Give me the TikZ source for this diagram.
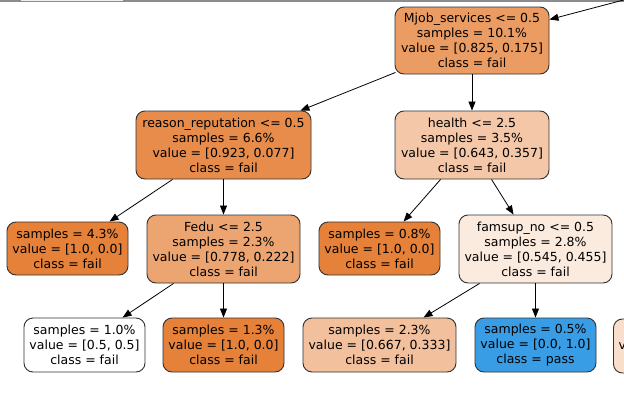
\documentclass[tikz,border=0pt]{standalone}
\usepackage{fontspec}
\setmainfont{DejaVu Sans}
\usetikzlibrary{arrows.meta,calc}
\definecolor{cMjob}{RGB}{235,156,99}
\definecolor{cReason}{RGB}{231,140,74}
\definecolor{cHealth}{RGB}{243,199,167}
\definecolor{cFail}{RGB}{229,129,57}
\definecolor{cFedu}{RGB}{236,165,113}
\definecolor{cFamsup}{RGB}{251,234,222}
\definecolor{cHalf}{RGB}{242,192,156}
\definecolor{cPass}{RGB}{57,157,229}
\definecolor{cPartial}{RGB}{248,222,203}
\definecolor{cBorder}{RGB}{50,50,50}
\definecolor{cBar}{RGB}{140,140,140}
\tikzset{
  treenode/.style={draw=cBorder, line width=0.9pt, rounded corners=9pt, inner sep=0pt,
    align=center, font=\fontsize{12.5}{15}\selectfont, text=black},
  edge/.style={draw=black, line width=0.8pt, -{Triangle[length=9pt,width=7pt]}}
}
\begin{document}
\begin{tikzpicture}[x=1pt,y=-1pt]
\useasboundingbox (0,0) rectangle (624,402);
\fill[white] (0,0) rectangle (624,402);
\fill[cBar] (0,0) rectangle (624,2);
\fill[white!85!cBar] (21,0) rectangle (123,1);

\node[treenode, fill=cMjob, minimum width=154pt, minimum height=67pt] (mjob) at (472,40.5)
  {Mjob\_services <= 0.5\\samples = 10.1\%\\value = [0.825, 0.175]\\class = fail};
\node[treenode, fill=cReason, minimum width=175pt, minimum height=68pt] (reason) at (223.5,145)
  {reason\_reputation <= 0.5\\samples = 6.6\%\\value = [0.923, 0.077]\\class = fail};
\node[treenode, fill=cHealth, minimum width=154pt, minimum height=68pt] (health) at (472,145)
  {health <= 2.5\\samples = 3.5\%\\value = [0.643, 0.357]\\class = fail};
\node[treenode, fill=cFail, minimum width=121pt, minimum height=53pt] (l43) at (67.5,248.5)
  {samples = 4.3\%\\value = [1.0, 0.0]\\class = fail};
\node[treenode, fill=cFedu, minimum width=153pt, minimum height=68pt] (fedu) at (223.5,249)
  {Fedu <= 2.5\\samples = 2.3\%\\value = [0.778, 0.222]\\class = fail};
\node[treenode, fill=cFail, minimum width=121pt, minimum height=53pt] (l08) at (379.5,248.5)
  {samples = 0.8\%\\value = [1.0, 0.0]\\class = fail};
\node[treenode, fill=cFamsup, minimum width=153pt, minimum height=68pt] (famsup) at (535.5,249)
  {famsup\_no <= 0.5\\samples = 2.8\%\\value = [0.545, 0.455]\\class = fail};
\node[treenode, fill=white, minimum width=121pt, minimum height=54pt] (l10) at (84.5,345)
  {samples = 1.0\%\\value = [0.5, 0.5]\\class = fail};
\node[treenode, fill=cFail, minimum width=121pt, minimum height=54pt] (l13) at (223.5,345)
  {samples = 1.3\%\\value = [1.0, 0.0]\\class = fail};
\node[treenode, fill=cHalf, minimum width=153pt, minimum height=54pt] (l23) at (379.5,345)
  {samples = 2.3\%\\value = [0.667, 0.333]\\class = fail};
\node[treenode, fill=cPass, minimum width=121pt, minimum height=54pt] (l05) at (535.5,345)
  {samples = 0.5\%\\value = [0.0, 1.0]\\class = pass};
\begin{scope}
\clip (0,0) rectangle (624,402);
\node[treenode, fill=cPartial, minimum width=153pt, minimum height=54pt, anchor=west] (lpart) at (613,346)
  {};
\node[font=\fontsize{12.5}{15}\selectfont, anchor=west, inner sep=0pt] (lparttext) at (618.5,346) {v};
\coordinate (inc) at (660,-9.6);
\draw[edge] (inc) -- ($(mjob.north east)+(0,13)$);
\end{scope}

\draw[edge] ($(mjob.south west)+(1,-2)$) -- ($(reason.north east)+(-11,0)$);
\draw[edge] (mjob.south) -- (health.north);
\draw[edge] ($(reason.south west)+(37,0)$) -- ($(l43.north west)+(103,0)$);
\draw[edge] (reason.south) -- (fedu.north);
\draw[edge] ($(health.south west)+(46,0)$) -- ($(l08.north west)+(85,0)$);
\draw[edge] ($(health.south west)+(97,0)$) -- ($(famsup.north west)+(55,0)$);
\draw[edge] ($(fedu.south west)+(27,0)$) -- ($(l10.north west)+(99,0)$);
\draw[edge] (fedu.south) -- (l13.north);
\draw[edge] ($(famsup.south west)+(21,0)$) -- ($(l23.north west)+(121,0)$);
\draw[edge] (famsup.south) -- (l05.north);
\end{tikzpicture}
\end{document}
